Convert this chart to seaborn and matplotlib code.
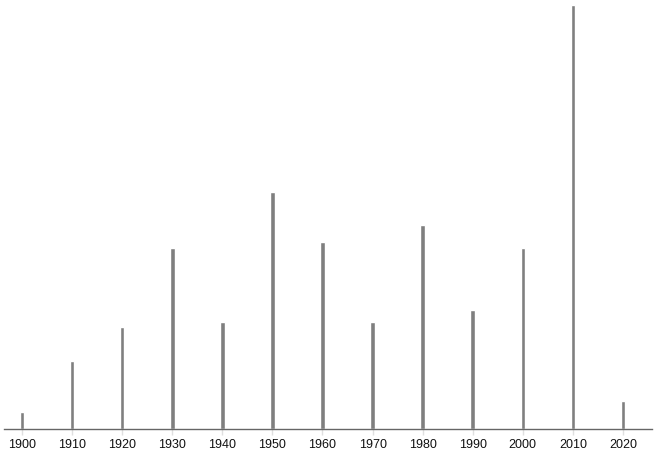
import seaborn as sns
import pandas as pd
from matplotlib import pyplot as plt

years = [1900, 1910, 1920, 1930, 1940, 1950, 1960, 1970, 1980, 1990, 2000, 2010, 2020]
counts = [3, 12, 18, 32, 19, 42, 33, 19, 36, 21, 32, 75, 5]
tick_labels = [str(y) for y in years]

df = pd.DataFrame({"Year": years, "Count": counts})

sns.set_style("white")
plt.rcParams['font.family'] = ['Liberation Sans', 'DejaVu Sans']

fig = plt.figure(figsize=(6.57, 4.53), dpi=100)
ax = fig.add_axes([4 / 657, 1 - 429 / 453, 648 / 657, 424 / 453])

sns.barplot(data=df, x="Year", y="Count", native_scale=True, width=0.09,
            color="#7f7f7f", saturation=1, ax=ax)

ax.set_xlim(1896.4, 2025.8)
ax.set_ylim(0, 75)
ax.set_xticks(years)
ax.set_xticklabels(tick_labels, fontsize=9, color="#111111")
ax.tick_params(axis="x", bottom=True, length=4, width=1, color="#e0e0e0", pad=3)
ax.set_yticks([])
ax.set_xlabel("")
ax.set_ylabel("")
for side in ["top", "right", "left"]:
    ax.spines[side].set_visible(False)
ax.spines["bottom"].set_color("#666666")
ax.spines["bottom"].set_linewidth(1)

fig.savefig("out.png", dpi=100)
